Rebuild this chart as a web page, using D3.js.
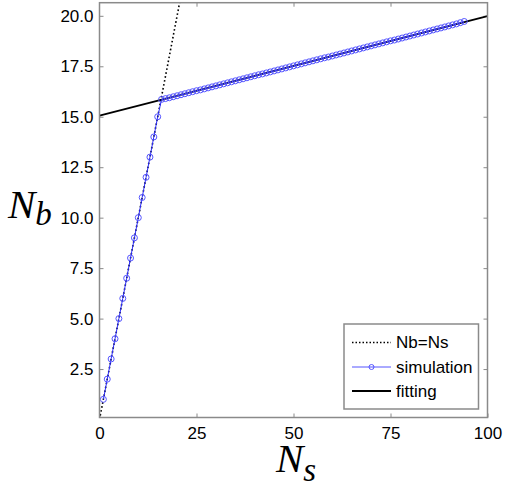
<!DOCTYPE html>
<html>
<head>
<meta charset="utf-8">
<script src="https://cdn.jsdelivr.net/npm/d3@7"></script>
<style>
  html, body { margin: 0; padding: 0; background: #fff; }
  svg { display: block; }
  text { font-family: "Liberation Sans", Arial, sans-serif; }
</style>
</head>
<body>
<svg id="chart" width="506" height="488"></svg>
<script>
// ---- data ----
const xTicks = [0, 25, 50, 75, 100];
const yTicks = [2.5, 5.0, 7.5, 10.0, 12.5, 15.0, 17.5, 20.0];
const identityNs = [0, 25];
const identityNb = [0, 25];
const fitNs = [0, 100];
const fitNb = [15.05, 19.99];
const simNs = [1,2,3,4,5,6,7,8,9,10,11,12,13,14,15,16,17,18,19,20,21,22,23,24,25,26,27,28,29,30,
  31,32,33,34,35,36,37,38,39,40,41,42,43,44,45,46,47,48,49,50,51,52,53,54,55,56,57,58,59,60,
  61,62,63,64,65,66,67,68,69,70,71,72,73,74,75,76,77,78,79,80,81,82,83,84,85,86,87,88,89,90,
  91,92,93,94];
const simNb = [1,2,3,4,5,6,7,8,9,10,11,12,13,14,15,15.86,15.90,15.94,15.99,16.04,16.09,16.14,16.19,16.24,16.29,
  16.33,16.38,16.43,16.48,16.53,16.58,16.63,16.68,16.73,16.78,16.83,16.88,16.93,16.98,17.03,
  17.08,17.12,17.17,17.22,17.27,17.32,17.37,17.42,17.47,17.52,17.57,17.62,17.67,17.72,17.77,
  17.82,17.87,17.92,17.96,18.01,18.06,18.11,18.16,18.21,18.26,18.31,18.36,18.41,18.46,18.51,
  18.56,18.61,18.66,18.71,18.76,18.80,18.85,18.90,18.95,19.00,19.05,19.10,19.15,19.20,19.25,
  19.30,19.35,19.40,19.45,19.50,19.55,19.60,19.66,19.72];
const legendLabels = ["Nb=Ns", "simulation", "fitting"];

// ---- layout ----
const L = 99.5, R = 487.5, T = 2.7, B = 417.5;
const svg = d3.select("#chart");
const x = d3.scaleLinear().domain([0, 100]).range([L, R]);
const y = d3.scaleLinear().domain([0.1, 20.65]).range([B, T]);

const axisColor = "#8a8a8a";
const tickLen = 4;

// clip
svg.append("defs").append("clipPath").attr("id", "clip")
  .append("rect").attr("x", L).attr("y", T).attr("width", R - L).attr("height", B - T);

// axes (inward ticks, mirrored)
function styleAxis(g) {
  g.select(".domain").remove();
  g.selectAll(".tick line").attr("stroke", axisColor).attr("stroke-width", 1);
  g.selectAll(".tick text").attr("fill", "#000").style("font-size", "17px")
    .style("font-family", '"Liberation Sans", Arial, sans-serif');
}
const fmtY = d3.format(".1f");
svg.append("g").attr("transform", `translate(0,${B})`)
  .call(d3.axisBottom(x).tickValues(xTicks).tickSize(-tickLen).tickPadding(10).tickFormat(d3.format("d")))
  .call(styleAxis)
  .selectAll(".tick text").attr("dy", "0.71em").attr("y", 9);
svg.append("g").attr("transform", `translate(0,${T})`)
  .call(d3.axisTop(x).tickValues(xTicks.slice(1, 4)).tickSize(-tickLen).tickFormat(""))
  .call(styleAxis);
svg.append("g").attr("transform", `translate(${L},0)`)
  .call(d3.axisLeft(y).tickValues(yTicks).tickSize(-tickLen).tickPadding(6).tickFormat(fmtY))
  .call(styleAxis);
svg.append("g").attr("transform", `translate(${R},0)`)
  .call(d3.axisRight(y).tickValues(yTicks).tickSize(-tickLen).tickFormat(""))
  .call(styleAxis);

const plot = svg.append("g").attr("clip-path", "url(#clip)");
const line = d3.line().x(d => x(d[0])).y(d => y(d[1]));

// fitting line
plot.append("path").datum(d3.zip(fitNs, fitNb)).attr("d", line)
  .attr("fill", "none").attr("stroke", "#000").attr("stroke-width", 1.8);
// identity dotted line
plot.append("path").datum(d3.zip(identityNs, identityNb)).attr("d", line)
  .attr("fill", "none").attr("stroke", "#000").attr("stroke-width", 1.6)
  .attr("stroke-dasharray", "1.6,2.4");
// simulation
const simData = d3.zip(simNs, simNb);
plot.append("path").datum(simData).attr("d", line)
  .attr("fill", "none").attr("stroke", "#2a2aff").attr("stroke-width", 1);
plot.selectAll("circle.sim").data(simData).join("circle").attr("class", "sim")
  .attr("cx", d => x(d[0])).attr("cy", d => y(d[1])).attr("r", 3)
  .attr("fill", "none").attr("stroke", "#5555ff").attr("stroke-width", 1);

// frame
svg.append("rect").attr("x", L).attr("y", T).attr("width", R - L).attr("height", B - T)
  .attr("fill", "none").attr("stroke", axisColor).attr("stroke-width", 1.5);

// legend
const lg = svg.append("g");
lg.append("rect").attr("x", 344).attr("y", 324).attr("width", 134.5).attr("height", 85)
  .attr("fill", "#fff").attr("stroke", axisColor).attr("stroke-width", 1.5);
const rowsY = [342.5, 367, 391];
const lx1 = 352, lx2 = 391;
// Nb=Ns
lg.append("line").attr("x1", lx1).attr("x2", lx2).attr("y1", rowsY[0]).attr("y2", rowsY[0])
  .attr("stroke", "#000").attr("stroke-width", 1.5).attr("stroke-dasharray", "1.5,2");
// simulation
lg.append("line").attr("x1", lx1).attr("x2", lx2).attr("y1", rowsY[1]).attr("y2", rowsY[1])
  .attr("stroke", "#5555ff").attr("stroke-width", 1);
lg.append("circle").attr("cx", (lx1 + lx2) / 2).attr("cy", rowsY[1]).attr("r", 2.5)
  .attr("fill", "none").attr("stroke", "#5555ff").attr("stroke-width", 1);
// fitting
lg.append("line").attr("x1", lx1).attr("x2", lx2).attr("y1", rowsY[2]).attr("y2", rowsY[2])
  .attr("stroke", "#000").attr("stroke-width", 1.8);
lg.selectAll("text.lab").data(legendLabels).join("text").attr("class", "lab")
  .attr("x", 396).attr("y", (d, i) => rowsY[i]).attr("dy", "0.35em")
  .style("font-size", "17px").text(d => d);

// axis titles
const serif = '"Liberation Serif", "DejaVu Serif", serif';
const yt = svg.append("text").attr("x", 8).attr("y", 218).style("font-family", serif)
  .style("font-style", "italic");
yt.append("tspan").style("font-size", "41px").text("N");
yt.append("tspan").style("font-size", "33px").attr("dy", 7).text("b");
const xt = svg.append("text").attr("x", 276).attr("y", 472).style("font-family", serif)
  .style("font-style", "italic");
xt.append("tspan").style("font-size", "41px").text("N");
xt.append("tspan").style("font-size", "33px").attr("dy", 9).text("s");
</script>
</body>
</html>
